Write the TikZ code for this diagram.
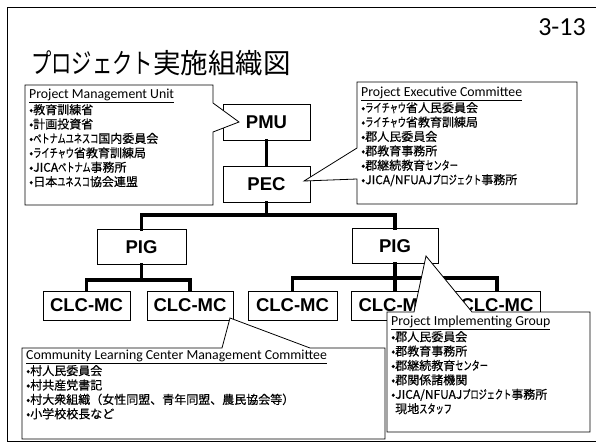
\documentclass[tikz,border=0pt]{standalone}
\usepackage{fontspec}
\setmainfont{Noto Sans CJK JP}
\newfontfamily\jp{Noto Sans CJK JP}
\newfontfamily\jpb[FakeBold=0.5]{Noto Sans CJK JP}
\newfontfamily\lat{Carlito}
\newfontfamily\arl{Liberation Sans}
\newcommand\kana[1]{\scalebox{0.68}[1]{#1}}
\newcommand\tkana[1]{\scalebox{0.74}[1]{#1}}
\newcommand\hdtext[1]{{\lat\fontsize{13.8}{14.4}\selectfont\underline{#1}}}
\begin{document}
\begin{tikzpicture}[x=1pt,y=-1pt,
  orgbox/.style={draw, line width=0.9pt, fill=white, inner sep=0pt,
    font=\arl\bfseries\fontsize{18.5}{20}\selectfont},
  conn/.style={line width=3.5pt, line cap=rect, line join=miter},
  callout/.style={draw, line width=0.8pt, fill=white, line join=miter},
  ctext/.style={anchor=north west, align=left, inner sep=0pt,
    font=\jpb\fontsize{12}{14.4}\selectfont}]
\useasboundingbox (0,0) rectangle (596,444);
% frame
\draw[line width=0.9pt] (596,7) -- (7,7) -- (7,441) -- (596,441);
% title
\node[anchor=base west, inner sep=0pt] (title) at (31,73)
  {\jp\fontsize{27.5}{30}\selectfont\tkana{プロジェクト}実施組織図};
\node[anchor=base east, inner sep=0pt] (pagenum) at (586,36)
  {\lat\fontsize{26}{30}\selectfont 3-13};
% boxes
\node[orgbox, minimum width=87pt, minimum height=36pt] (PMU) at (266.5,122) {PMU};
\node[orgbox, minimum width=87pt, minimum height=36pt] (PEC) at (266.5,184) {PEC};
\node[orgbox, minimum width=89pt, minimum height=35pt] (PIG1) at (141.5,247) {PIG};
\node[orgbox, minimum width=86pt, minimum height=35pt] (PIG2) at (395,246) {PIG};
\node[orgbox, minimum width=87pt, minimum height=29pt] (CLC1) at (86.5,305.5) {CLC-MC};
\node[orgbox, minimum width=86pt, minimum height=29pt] (CLC2) at (190,305.5) {CLC-MC};
\node[orgbox, minimum width=89pt, minimum height=29pt] (CLC3) at (292.5,305.5) {CLC-MC};
\node[orgbox, minimum width=88pt, minimum height=29pt] (CLC4) at (395,305.5) {CLC-MC};
\node[orgbox, minimum width=86pt, minimum height=29pt] (CLC5) at (497,305.5) {CLC-MC};
% connectors
\coordinate (b1) at (266.5,215);
\coordinate (b2) at (141.5,280);
\coordinate (b3) at (395,278);
\draw[conn] (PMU.south) -- (PEC.north);
\draw[conn] (PEC.south) -- (b1);
\draw[conn] (PIG1.north) |- (b1) -| (PIG2.north);
\draw[conn] (PIG1.south) -- (b2);
\draw[conn] (CLC1.north) |- (b2) -| (CLC2.north);
\draw[conn] (PIG2.south) -- (b3);
\draw[conn] (CLC3.north) |- (b3) -| (CLC5.north);
\draw[conn] (b3) -- (CLC4.north);
% PMU callout
\draw[callout] (25,85) -- (213,85) -- (213,103) -- (239,122) -- (213,132)
  -- (213,205) -- (25,205) -- cycle;
\node[ctext] (pmut) at (29,89) {\hdtext{Project Management Unit}\\
•教育訓練省\\
•計画投資省\\
•\kana{ベトナムユネスコ}国内委員会\\
•\kana{ライチャウ}省教育訓練局\\
•JICA\kana{ベトナム}事務所\\
•日本\kana{ユネスコ}協会連盟};
% PEC callout
\draw[callout] (357,82) -- (577,82) -- (577,204) -- (357,204) -- (357,179)
  -- (304,181) -- (357,148) -- cycle;
\node[ctext] (pect) at (361,87) {\hdtext{Project Executive Committee}\\
•\kana{ライチャウ}省人民委員会\\
•\kana{ライチャウ}省教育訓練局\\
•郡人民委員会\\
•郡教育事務所\\
•郡継続教育\kana{センター}\\
•JICA/NFUAJ\kana{プロジェクト}事務所};
% CLC callout
\draw[callout] (22,348) -- (222,348) -- (230,318) -- (310,348) -- (385,348)
  -- (385,439) -- (22,439) -- cycle;
\node[ctext] (clct) at (26,350) {\hdtext{Community Learning Center Management Committee}\\
•村人民委員会\\
•村共産党書記\\
•村大衆組織（女性同盟、青年同盟、農民協会等）\\
•小学校校長など};
% PIG callout
\draw[callout] (387,312) -- (414,312) -- (426,256) -- (472,312) -- (590,312)
  -- (590,432) -- (387,432) -- cycle;
\node[ctext] (pigt) at (391,316) {\hdtext{Project Implementing Group}\\
•郡人民委員会\\
•郡教育事務所\\
•郡継続教育\kana{センター}\\
•郡関係諸機関\\
•JICA/NFUAJ\kana{プロジェクト}事務所\\
\hphantom{•}現地\kana{スタッフ}};
\end{tikzpicture}
\end{document}
